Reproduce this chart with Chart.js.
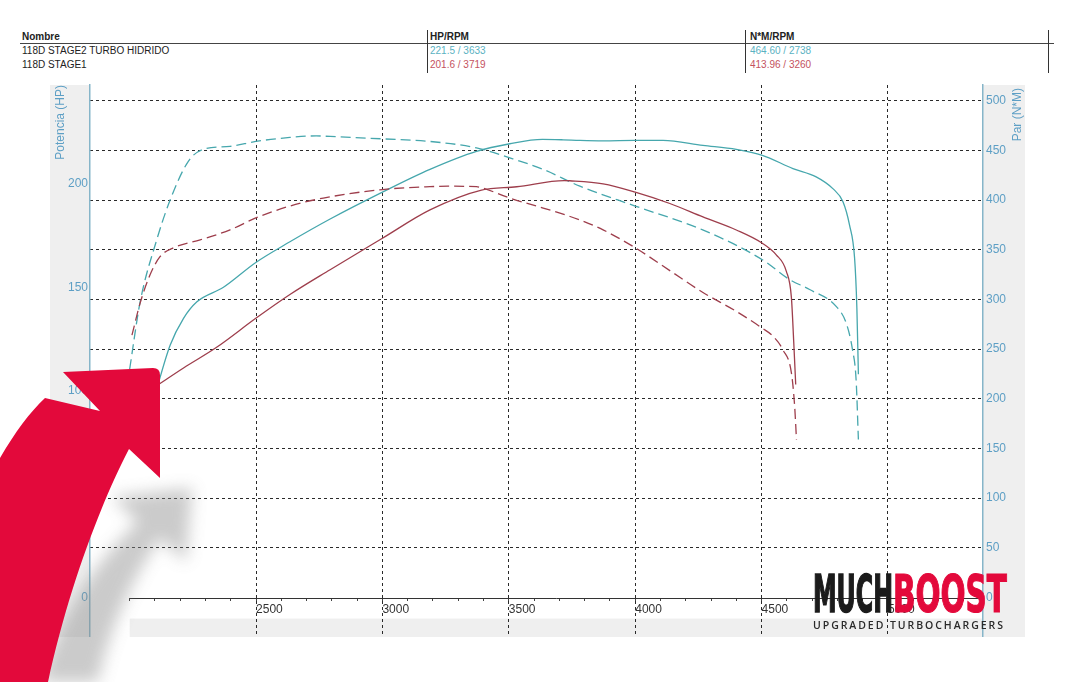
<!DOCTYPE html>
<html>
<head>
<meta charset="utf-8">
<script src="https://cdn.jsdelivr.net/npm/chart.js@4.4.1/dist/chart.umd.min.js"></script>
<style>
body { margin:0; width:1072px; height:682px; overflow:hidden; position:relative; background:#fff; font-family:Arial, "Liberation Sans", sans-serif; }
.hd { position:absolute; font-size:10px; line-height:12px; white-space:nowrap; color:#222; }
.b { font-weight:bold; }
.vl { position:absolute; top:30px; height:43px; width:1px; background:#333; }
.hl { position:absolute; left:20px; top:43px; width:1034px; height:1px; background:#444; }
#wrap { position:absolute; left:0; top:80px; width:1072px; height:602px; }
#over { position:absolute; left:0; top:0; }
</style>
</head>
<body>
<div id="hdr"></div>
<div id="wrap"><canvas id="dyno" width="1072" height="602"></canvas></div>
<svg id="over" width="1072" height="682">
  <defs>
    <filter id="soft" x="-50%" y="-50%" width="200%" height="200%"><feGaussianBlur stdDeviation="8"/></filter>
  </defs>
  <path d="M112,497 L192,488 L186,562 L160,538 C128,585 108,635 98,682 L40,682 C58,618 92,565 138,522 Z" fill="#8c8c8c" opacity="0.45" filter="url(#soft)"/>
  <path d="M63,372 L153,368 Q160,368 160,375 L160,478 L129,449 C100,505 68,590 48,682 L0,682 L0,458 C15,432 30,412 45,398 L100,411 Z" fill="#e3093b"/>
  <text x="813" y="612" font-family="'DejaVu Sans Condensed','Liberation Sans Narrow',Arial,sans-serif" font-weight="bold" font-size="51" textLength="80" lengthAdjust="spacingAndGlyphs" fill="#1b1b1b" stroke="#1b1b1b" stroke-width="1.6">MUCH</text>
  <text x="893" y="612" font-family="'DejaVu Sans Condensed','Liberation Sans Narrow',Arial,sans-serif" font-weight="bold" font-size="51" textLength="114" lengthAdjust="spacingAndGlyphs" fill="#e3093b" stroke="#e3093b" stroke-width="1.2">BOOST</text>
  <text x="813" y="629" font-family="'Open Sans',Arial,sans-serif" font-size="10.5" font-weight="600" textLength="190" lengthAdjust="spacing" fill="#2a2a2a">UPGRADED TURBOCHARGERS</text>
</svg>
<script>
// header table
var names = ['118D STAGE2 TURBO HIDRIDO', '118D STAGE1'];
var hpAtRpm = ['221.5 / 3633', '201.6 / 3719'];
var nmAtRpm = ['464.60 / 2738', '413.96 / 3260'];
var rowColors = ['#5ab2c2', '#c4525e'];

// stage2 torque (teal, dashed) - N*M
var s2TorqueRpm = [2000, 2041, 2107, 2160, 2232, 2290, 2397, 2499, 2634, 2738, 2793, 3000, 3188, 3372, 3504, 3635, 3781, 4000, 4267, 4503, 4611, 4690, 4795, 4835, 4860, 4874, 4883];
var s2TorqueNm = [230, 297, 360, 400, 439, 451, 454, 459, 463, 464.6, 464, 461.6, 459, 452.5, 442.5, 431, 414, 394, 370, 340, 320, 310, 293, 276, 249, 219, 159];
// stage2 power (teal, solid) - HP
var s2PowerRpm = [2100, 2160, 2213, 2266, 2371, 2499, 2634, 2793, 3000, 3188, 3372, 3504, 3633, 3715, 3781, 3873, 4000, 4110, 4268, 4400, 4503, 4624, 4716, 4782, 4822, 4848, 4868, 4877, 4883];
var s2PowerHp = [98, 122, 135, 143, 150, 162, 172, 183, 196, 207, 215.7, 219.4, 221.5, 221.3, 221, 220.8, 221, 221, 218.6, 216.7, 213.8, 207.4, 203.4, 197.7, 191.3, 180, 164, 140, 108];
// stage1 torque (red, dashed) - N*M
var s1TorqueRpm = [2009, 2041, 2081, 2120, 2173, 2279, 2397, 2499, 2634, 2766, 3000, 3188, 3260, 3372, 3398, 3504, 3636, 3781, 3873, 4000, 4137, 4268, 4400, 4503, 4545, 4585, 4618, 4631, 4638];
var s1TorqueNm = [264, 296, 325, 343, 352, 360, 370, 382, 394, 402, 410.6, 413.5, 413.96, 413.5, 412, 402, 392, 380, 370, 352, 329, 307, 288, 271, 263, 249, 226, 192, 159];
// stage1 power (red, solid) - HP
var s1PowerRpm = [2114, 2213, 2344, 2499, 2634, 2793, 3000, 3188, 3392, 3531, 3719, 3741, 3873, 4000, 4137, 4268, 4400, 4503, 4558, 4598, 4618, 4627, 4635];
var s1PowerHp = [103, 111, 121, 135, 146.5, 158.5, 173.7, 187.4, 197, 198.6, 201.6, 201.5, 200, 196, 190.5, 184, 177.7, 171.3, 165.7, 157.7, 145, 124, 103];

// axes
var rpmLabels = [2500, 3000, 3500, 4000, 4500, 5000];
var rpmMinorStart = 2000, rpmMinorEnd = 5300, rpmMinorStep = 100;
var hpTicks = [0, 50, 100, 150, 200];
var nmTicks = [0, 50, 100, 150, 200, 250, 300, 350, 400, 450, 500];

var TEAL = '#46a7ad';
var RED = '#9e3e4c';
var AXIS_BLUE = '#5d9fc5';

function buildHeader() {
    var h = '';
    h += '<div class="hd b" style="left:22px;top:31px;">Nombre</div>';
    h += '<div class="hd b" style="left:430px;top:31px;">HP/RPM</div>';
    h += '<div class="hd b" style="left:750px;top:31px;">N*M/RPM</div>';
    h += '<div class="hl"></div>';
    h += '<div class="vl" style="left:427px;"></div>';
    h += '<div class="vl" style="left:745px;"></div>';
    h += '<div class="vl" style="left:1048px;"></div>';
    for (var i = 0; i < names.length; i++) {
        var top = 45 + i * 14;
        h += '<div class="hd" style="left:22px;top:' + top + 'px;">' + names[i] + '</div>';
        h += '<div class="hd" style="left:430px;top:' + top + 'px;color:' + rowColors[i] + ';">' + hpAtRpm[i] + '</div>';
        h += '<div class="hd" style="left:750px;top:' + top + 'px;color:' + rowColors[i] + ';">' + nmAtRpm[i] + '</div>';
    }
    document.getElementById('hdr').innerHTML = h;
}

function pts(xs, ys) {
    var out = [];
    for (var i = 0; i < xs.length; i++) out.push({ x: xs[i], y: ys[i] });
    return out;
}

function tickList(arr) {
    var t = [];
    for (var i = 0; i < arr.length; i++) t.push({ value: arr[i] });
    return t;
}

var panelsPlugin = {
    id: 'panels',
    beforeDraw: function(chart) {
        var ctx = chart.ctx, a = chart.chartArea;
        var xs = chart.scales.x.getPixelForValue(rpmMinorStart);
        var y0 = chart.scales.yNm.getPixelForValue(0);
        ctx.save();
        ctx.fillStyle = '#efefef';
        ctx.fillRect(50, a.top, a.left - 50, a.bottom - a.top + 1);
        ctx.fillRect(a.right, a.top, 1025 - a.right, a.bottom - a.top + 1);
        ctx.fillRect(xs, y0 + 21, 1025 - xs, a.bottom - y0 - 20);
        ctx.restore();
    },
    afterDatasetsDraw: function(chart) {
        var ctx = chart.ctx, a = chart.chartArea;
        var xs = chart.scales.x.getPixelForValue(rpmMinorStart);
        var y0 = Math.round(chart.scales.yNm.getPixelForValue(0)) + 0.5;
        ctx.save();
        ctx.strokeStyle = '#333';
        ctx.lineWidth = 1;
        ctx.beginPath();
        ctx.moveTo(xs, y0);
        ctx.lineTo(a.right, y0);
        ctx.stroke();
        // right axis title, reads bottom-to-top like the left one
        ctx.translate(1018, a.top + 3);
        ctx.rotate(-Math.PI / 2);
        ctx.font = '12px Arial, "Liberation Sans", sans-serif';
        ctx.fillStyle = AXIS_BLUE;
        ctx.textAlign = 'right';
        ctx.textBaseline = 'middle';
        ctx.fillText('Par (N*M)', 0, 0);
        ctx.restore();
    }
};

function makeChart() {
    var minor = [];
    for (var v = rpmMinorStart; v <= rpmMinorEnd; v += rpmMinorStep) minor.push(v);

    Chart.defaults.font.family = 'Arial, "Liberation Sans", sans-serif';
    Chart.defaults.font.size = 12;

    var lineBase = { pointRadius: 0, borderWidth: 1.3, fill: false, cubicInterpolationMode: 'monotone' };

    new Chart(document.getElementById('dyno').getContext('2d'), {
        type: 'line',
        data: {
            datasets: [
                Object.assign({ label: names[1] + ' HP', data: pts(s1PowerRpm, s1PowerHp), yAxisID: 'yHP', borderColor: RED }, lineBase),
                Object.assign({ label: names[1] + ' N*M', data: pts(s1TorqueRpm, s1TorqueNm), yAxisID: 'yNm', borderColor: RED, borderDash: [10, 5] }, lineBase),
                Object.assign({ label: names[0] + ' HP', data: pts(s2PowerRpm, s2PowerHp), yAxisID: 'yHP', borderColor: TEAL }, lineBase),
                Object.assign({ label: names[0] + ' N*M', data: pts(s2TorqueRpm, s2TorqueNm), yAxisID: 'yNm', borderColor: TEAL, borderDash: [10, 5] }, lineBase)
            ]
        },
        options: {
            responsive: false,
            animation: false,
            layout: { padding: { left: 50, right: 47, top: 5, bottom: 46 }, autoPadding: false },
            plugins: { legend: { display: false }, tooltip: { enabled: false } },
            scales: {
                x: {
                    type: 'linear',
                    position: { yNm: 0 },
                    min: 1843,
                    max: 5376,
                    afterBuildTicks: function(s) { s.ticks = tickList(minor); },
                    afterFit: function(s) { s.paddingLeft = 0; s.paddingRight = 0; },
                    grid: {
                        color: function(c) { return c.tick && rpmLabels.indexOf(c.tick.value) >= 0 ? '#2a2a2a' : 'rgba(0,0,0,0)'; },
                        lineWidth: 1,
                        tickColor: '#444',
                        tickLength: 3
                    },
                    border: { display: false, dash: [3, 3] },
                    ticks: {
                        autoSkip: false,
                        maxRotation: 0,
                        align: 'start',
                        padding: 2,
                        color: '#333',
                        callback: function(v) { return rpmLabels.indexOf(v) >= 0 ? String(v) : ''; }
                    }
                },
                yHP: {
                    type: 'linear',
                    position: 'left',
                    min: -18.6,
                    max: 247.8,
                    afterBuildTicks: function(s) { s.ticks = tickList(hpTicks); },
                    afterFit: function(s) { s.width = 40; s.paddingTop = 0; s.paddingBottom = 0; },
                    grid: { display: false, drawTicks: false },
                    border: { display: true, color: '#86b5c9', width: 1.5 },
                    ticks: { color: AXIS_BLUE, padding: 2 },
                    title: { display: true, text: 'Potencia (HP)', align: 'end', color: AXIS_BLUE, padding: { top: 3, bottom: 0 } }
                },
                yNm: {
                    type: 'linear',
                    position: 'right',
                    min: -38.7,
                    max: 515.8,
                    afterBuildTicks: function(s) { s.ticks = tickList(nmTicks); },
                    afterFit: function(s) { s.width = 42; s.paddingTop = 0; s.paddingBottom = 0; },
                    grid: {
                        color: function(c) { return c.tick && c.tick.value > 0 ? '#2a2a2a' : 'rgba(0,0,0,0)'; },
                        lineWidth: 1,
                        drawTicks: false
                    },
                    border: { display: true, color: '#86b5c9', width: 1.5, dash: [3, 3] },
                    ticks: { color: AXIS_BLUE, padding: 3 }
                }
            }
        },
        plugins: [panelsPlugin]
    });
}

buildHeader();
makeChart();
</script>
</body>
</html>
